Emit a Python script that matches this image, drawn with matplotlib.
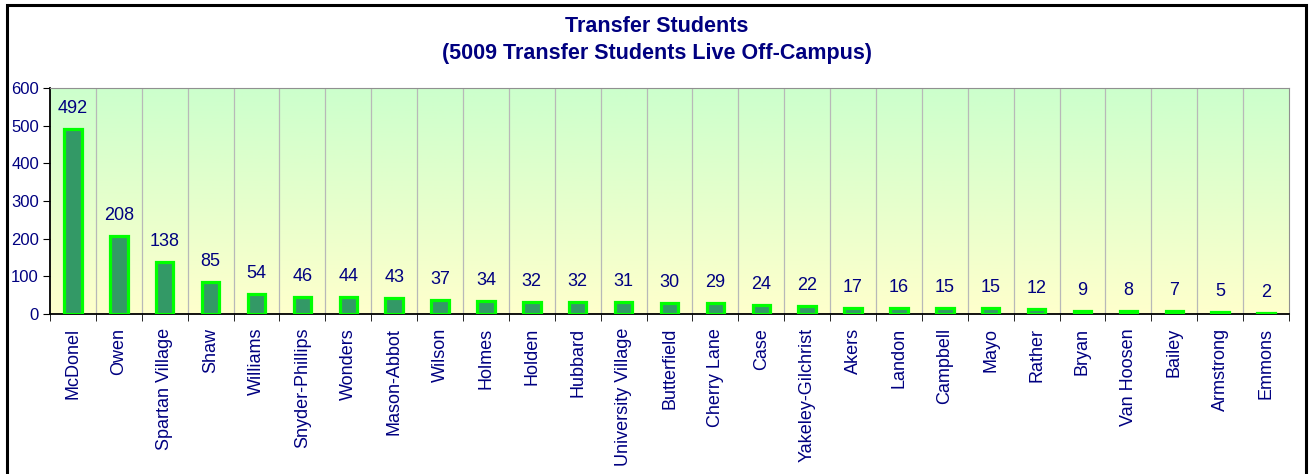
import numpy as np
import matplotlib.pyplot as plt
from matplotlib.patches import Rectangle

halls = ['McDonel', 'Owen', 'Spartan Village', 'Shaw', 'Williams', 'Snyder-Phillips',
         'Wonders', 'Mason-Abbot', 'Wilson', 'Holmes', 'Holden', 'Hubbard',
         'University Village', 'Butterfield', 'Cherry Lane', 'Case', 'Yakeley-Gilchrist',
         'Akers', 'Landon', 'Campbell', 'Mayo', 'Rather', 'Bryan', 'Van Hoosen',
         'Bailey', 'Armstrong', 'Emmons']
students = [492, 208, 138, 85, 54, 46, 44, 43, 37, 34, 32, 32, 31, 30, 29, 24, 22,
            17, 16, 15, 15, 12, 9, 8, 7, 5, 2]

navy = '#000080'
plt.rcParams['font.family'] = ['Liberation Sans', 'DejaVu Sans']

fig = plt.figure(figsize=(13.14, 4.74), dpi=100)
W, H = 1314, 474
ax = fig.add_axes([50 / W, 1 - 314 / H, (1289 - 50) / W, (314 - 88) / H])

# outer frame
fig.patches.append(Rectangle((7 / W, -0.05), (1306 - 7) / W, 1.05 - 5 / H,
                             transform=fig.transFigure, fill=False,
                             edgecolor='black', linewidth=2.2))

n = len(halls)
x = np.arange(n)

# gradient background, green at top to yellow at bottom
t = np.linspace(0, 1, 256)[:, None]
top = np.array([0.80, 1.0, 0.80])
bot = np.array([1.0, 1.0, 0.80])
img = top + (bot - top) * t
img = np.repeat(img[:, None, :], 2, axis=1)
ax.imshow(img, extent=[-0.5, n - 0.5, 0, 600], aspect='auto', zorder=0,
          origin='upper')

for b in np.arange(0.5, n - 1, 1):
    ax.axvline(b, color='#b8b8b8', linewidth=0.9, zorder=1)

ax.bar(x, students, width=0.38, color='#339966', edgecolor='#00ff00',
       linewidth=2.3, zorder=3)
for xi, v in zip(x, students):
    ax.text(xi, v + 32, str(v), ha='center', va='bottom', color=navy,
            fontsize=13, zorder=4)

ax.set_xlim(-0.5, n - 0.5)
ax.set_ylim(0, 600)
ax.set_yticks(range(0, 601, 100))
ax.set_xticks(x)
ax.set_xticklabels(halls, rotation=90, color=navy, fontsize=13)
ax.set_xticks(np.arange(-0.5, n, 1), minor=True)
ax.tick_params(axis='x', which='major', length=0, pad=10)
ax.tick_params(axis='x', which='minor', length=5, direction='out', color='black')
ax.tick_params(axis='y', length=5, direction='out', labelcolor=navy, labelsize=12,
               pad=3)

for s in ['top', 'right']:
    ax.spines[s].set_color('#909090')
for s in ['left', 'bottom']:
    ax.spines[s].set_color('black')
    ax.spines[s].set_linewidth(1.3)

fig.text(0.5, 1 - 26 / H, 'Transfer Students', ha='center', va='center',
         color=navy, fontsize=15.5, fontweight='bold')
fig.text(0.5, 1 - 53 / H, '(5009 Transfer Students Live Off-Campus)', ha='center',
         va='center', color=navy, fontsize=15.5, fontweight='bold')

fig.savefig('out.png', dpi=100)
